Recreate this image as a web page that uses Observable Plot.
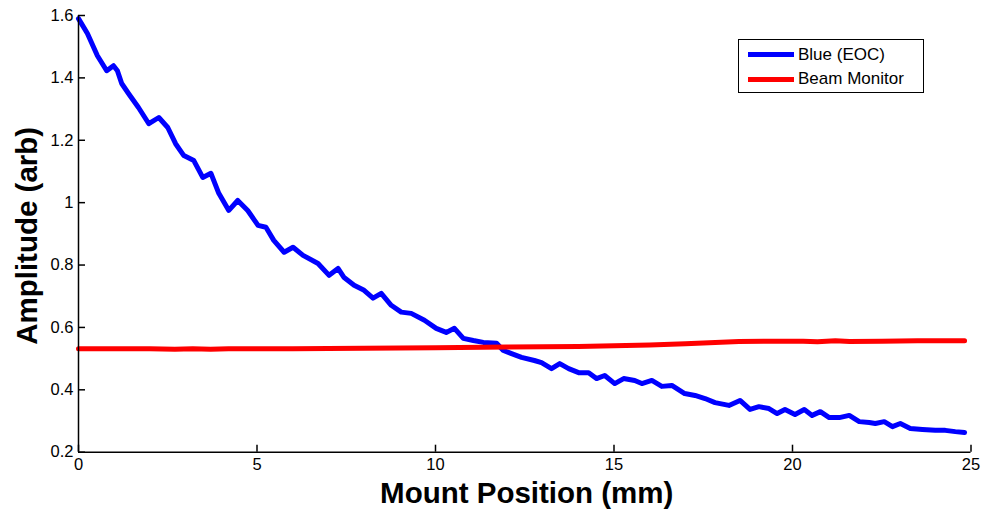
<!DOCTYPE html>
<html>
<head>
<meta charset="utf-8">
<script src="https://cdn.jsdelivr.net/npm/d3@7"></script>
<script src="https://cdn.jsdelivr.net/npm/@observablehq/plot@0.6"></script>
<style>
  html, body { margin: 0; padding: 0; background: #fff; }
  #wrap { position: relative; width: 984px; height: 512px; font-family: "Liberation Sans", Arial, sans-serif; }
  #legend { position: absolute; left: 738px; top: 39px; width: 186px; height: 54px; box-sizing: border-box;
            border: 1.5px solid #000; background: #fff; }
  .item { position: absolute; left: 9px; height: 20px; display: flex; align-items: center; }
  .swatch { width: 46px; height: 5px; margin-right: 4px; }
  .lab { font-size: 17px; color: #000; white-space: nowrap; }
</style>
</head>
<body>
<div id="wrap"></div>
<script>
// Tick values
const xTicks = [0, 5, 10, 15, 20, 25];
const yTicks = [0.2, 0.4, 0.6, 0.8, 1, 1.2, 1.4, 1.6];

// Series names
const seriesNames = ["Blue (EOC)", "Beam Monitor"];

// Blue (EOC): mount position (mm) and amplitude (arb)
const blueX = [0.00,0.25,0.53,0.79,0.98,1.09,1.21,1.40,1.68,1.97,2.25,2.50,2.72,2.95,3.23,3.48,3.71,3.93,4.21,4.46,4.74,5.03,5.25,5.47,5.76,6.01,6.29,6.71,7.02,7.27,7.44,7.72,8.00,8.25,8.48,8.76,9.04,9.32,9.69,10.02,10.30,10.53,10.78,11.06,11.34,11.71,11.90,12.13,12.41,12.77,12.97,13.25,13.48,13.73,14.01,14.29,14.51,14.74,15.02,15.27,15.58,15.78,16.06,16.34,16.62,16.98,17.27,17.55,17.83,18.22,18.53,18.81,19.06,19.34,19.57,19.79,20.07,20.33,20.55,20.78,21.03,21.31,21.59,21.87,22.15,22.32,22.57,22.80,23.02,23.30,23.64,24.00,24.28,24.56,24.82];
const blueY = [1.590,1.542,1.471,1.423,1.439,1.423,1.382,1.350,1.305,1.253,1.273,1.241,1.189,1.151,1.135,1.081,1.094,1.030,0.975,1.007,0.975,0.927,0.921,0.879,0.841,0.857,0.831,0.805,0.767,0.789,0.760,0.735,0.719,0.694,0.709,0.671,0.649,0.645,0.623,0.597,0.584,0.597,0.565,0.558,0.552,0.549,0.526,0.516,0.504,0.494,0.487,0.468,0.484,0.468,0.455,0.455,0.436,0.446,0.420,0.436,0.430,0.420,0.430,0.411,0.414,0.388,0.382,0.372,0.359,0.350,0.366,0.337,0.346,0.340,0.324,0.337,0.321,0.337,0.318,0.330,0.311,0.311,0.318,0.298,0.295,0.292,0.298,0.282,0.292,0.276,0.273,0.270,0.270,0.266,0.263];

// Beam Monitor
const redX = [0,2,2.7,3.2,3.7,4.2,6,8,10,12,13,14,15,16,17,17.5,18.5,19.5,20.3,20.7,21.2,21.6,22.5,23.5,24.82];
const redY = [0.532,0.532,0.530,0.532,0.530,0.532,0.532,0.533,0.535,0.537,0.538,0.539,0.541,0.544,0.548,0.550,0.555,0.556,0.556,0.554,0.557,0.555,0.556,0.557,0.557];

const colors = ["#0000ff", "#ff0000"];

const blue = blueX.map((x, i) => ({x, y: blueY[i]}));
const red = redX.map((x, i) => ({x, y: redY[i]}));

const W = 984, H = 512, mL = 78, mR = 13.5, mT = 15, mB = 60.3;
const plotW = W - mL - mR, plotH = H - mT - mB;
const font = "Liberation Sans, Arial, sans-serif";

const chart = Plot.plot({
  width: W, height: H,
  marginLeft: mL, marginRight: mR, marginTop: mT, marginBottom: mB,
  style: {fontFamily: font, background: "#fff", color: "#000", overflow: "visible"},
  x: {domain: [0, 25]},
  y: {domain: [0.2, 1.6]},
  marks: [
    Plot.axisX({ticks: xTicks, tickSize: 0, tickPadding: 6, fontSize: 16.5, tickFormat: d => String(d), label: null}),
    Plot.axisY({ticks: yTicks, tickSize: 0, tickPadding: 5, fontSize: 16.5, tickFormat: d => String(d), label: null}),
    Plot.tickX(xTicks, {x: d => d, insetTop: plotH - 7, stroke: "#000", strokeWidth: 1.5}),
    Plot.tickY(yTicks, {y: d => d, insetRight: plotW - 7, stroke: "#000", strokeWidth: 1.5}),
    Plot.line(blue, {x: "x", y: "y", stroke: colors[0], strokeWidth: 5, strokeLinejoin: "round"}),
    Plot.line(red, {x: "x", y: "y", stroke: colors[1], strokeWidth: 5}),
    Plot.ruleX([0], {stroke: "#000", strokeWidth: 1.5}),
    Plot.ruleY([0.2], {stroke: "#000", strokeWidth: 1.5}),
    Plot.text(["Mount Position (mm)"], {frameAnchor: "bottom", textAnchor: "middle", lineAnchor: "bottom", dy: 51, dx: 2, fontSize: 29.5, fontWeight: "bold", fill: "#000"}),
    Plot.text(["Amplitude (arb)"], {frameAnchor: "left", textAnchor: "middle", lineAnchor: "middle", rotate: -90, dx: -51, dy: 2, fontSize: 29.5, fontWeight: "bold", fill: "#000"})
  ]
});

const wrap = document.getElementById("wrap");
wrap.appendChild(chart);

const legend = document.createElement("div");
legend.id = "legend";
seriesNames.forEach((name, i) => {
  const item = document.createElement("div");
  item.className = "item";
  item.style.top = (4.5 + i * 24.5) + "px";
  const sw = document.createElement("div");
  sw.className = "swatch";
  sw.style.background = colors[i];
  const lab = document.createElement("span");
  lab.className = "lab";
  lab.textContent = name;
  item.appendChild(sw);
  item.appendChild(lab);
  legend.appendChild(item);
});
wrap.appendChild(legend);
</script>
</body>
</html>
